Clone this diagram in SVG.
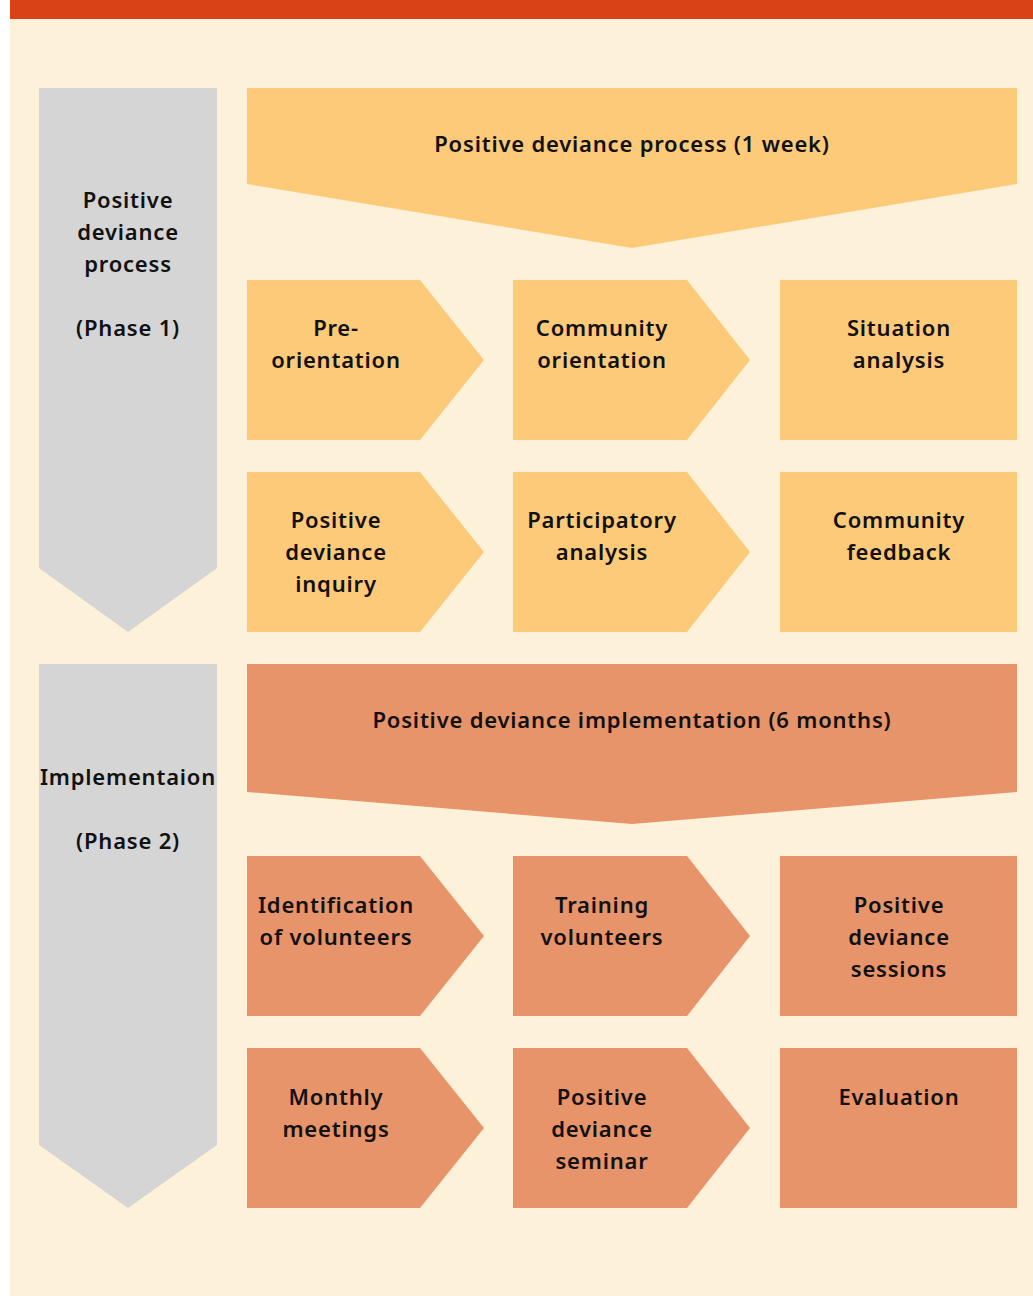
<svg xmlns="http://www.w3.org/2000/svg" width="1033" height="1296" viewBox="0 0 1033 1296">
<style>
.bg{fill:#FDF2D9}
.bar{fill:#D84216}
.gray{fill:#D5D5D5}
.lt{fill:#FDCA7A}
.dk{fill:#E8946A}
text{font-family:"Noto Sans","Liberation Sans",sans-serif;font-weight:600;font-size:22px;fill:#111;text-anchor:middle;letter-spacing:0.8px}
</style>
<rect x="0" y="0" width="1033" height="1296" fill="#ffffff"/>
<rect class="bg" x="10" y="0" width="1023" height="1296"/>
<rect class="bar" x="10" y="0" width="1023" height="19"/>

<g id="phase1">
<polygon class="gray" points="39,88 217,88 217,568 128,632 39,568"/>
<text x="128" y="208">Positive</text>
<text x="128" y="240">deviance</text>
<text x="128" y="272">process</text>
<text x="128" y="336">(Phase 1)</text>
</g>
<g id="process">
<polygon class="lt" points="247,88 1017,88 1017,184 632,248 247,184"/>
<text x="632" y="152">Positive deviance process (1 week)</text>
</g>
<g id="preorientation">
<polygon class="lt" points="247,280 420,280 484,360 420,440 247,440"/>
<text x="336" y="336">Pre-</text>
<text x="336" y="368">orientation</text>
</g>
<g id="community-orientation">
<polygon class="lt" points="513,280 687,280 750,360 687,440 513,440"/>
<text x="602" y="336">Community</text>
<text x="602" y="368">orientation</text>
</g>
<g id="situation-analysis">
<rect class="lt" x="780" y="280" width="237" height="160"/>
<text x="899" y="336">Situation</text>
<text x="899" y="368">analysis</text>
</g>
<g id="pd-inquiry">
<polygon class="lt" points="247,472 420,472 484,552 420,632 247,632"/>
<text x="336" y="528">Positive</text>
<text x="336" y="560">deviance</text>
<text x="336" y="592">inquiry</text>
</g>
<g id="participatory-analysis">
<polygon class="lt" points="513,472 687,472 750,552 687,632 513,632"/>
<text x="602" y="528">Participatory</text>
<text x="602" y="560">analysis</text>
</g>
<g id="community-feedback">
<rect class="lt" x="780" y="472" width="237" height="160"/>
<text x="899" y="528">Community</text>
<text x="899" y="560">feedback</text>
</g>

<g id="phase2">
<polygon class="gray" points="39,664 217,664 217,1145 128,1208 39,1145"/>
<text x="128" y="785">Implementaion</text>
<text x="128" y="849">(Phase 2)</text>
</g>
<g id="implementation">
<polygon class="dk" points="247,664 1017,664 1017,792 632,824 247,792"/>
<text x="632" y="728">Positive deviance implementation (6 months)</text>
</g>
<g id="identification">
<polygon class="dk" points="247,856 420,856 484,936 420,1016 247,1016"/>
<text x="336" y="913">Identification</text>
<text x="336" y="945">of volunteers</text>
</g>
<g id="training">
<polygon class="dk" points="513,856 687,856 750,936 687,1016 513,1016"/>
<text x="602" y="913">Training</text>
<text x="602" y="945">volunteers</text>
</g>
<g id="pd-sessions">
<rect class="dk" x="780" y="856" width="237" height="160"/>
<text x="899" y="913">Positive</text>
<text x="899" y="945">deviance</text>
<text x="899" y="977">sessions</text>
</g>
<g id="monthly-meetings">
<polygon class="dk" points="247,1048 420,1048 484,1128 420,1208 247,1208"/>
<text x="336" y="1105">Monthly</text>
<text x="336" y="1137">meetings</text>
</g>
<g id="pd-seminar">
<polygon class="dk" points="513,1048 687,1048 750,1128 687,1208 513,1208"/>
<text x="602" y="1105">Positive</text>
<text x="602" y="1137">deviance</text>
<text x="602" y="1169">seminar</text>
</g>
<g id="evaluation">
<rect class="dk" x="780" y="1048" width="237" height="160"/>
<text x="899" y="1105">Evaluation</text>
</g>
<g id="connectors"></g>
</svg>
